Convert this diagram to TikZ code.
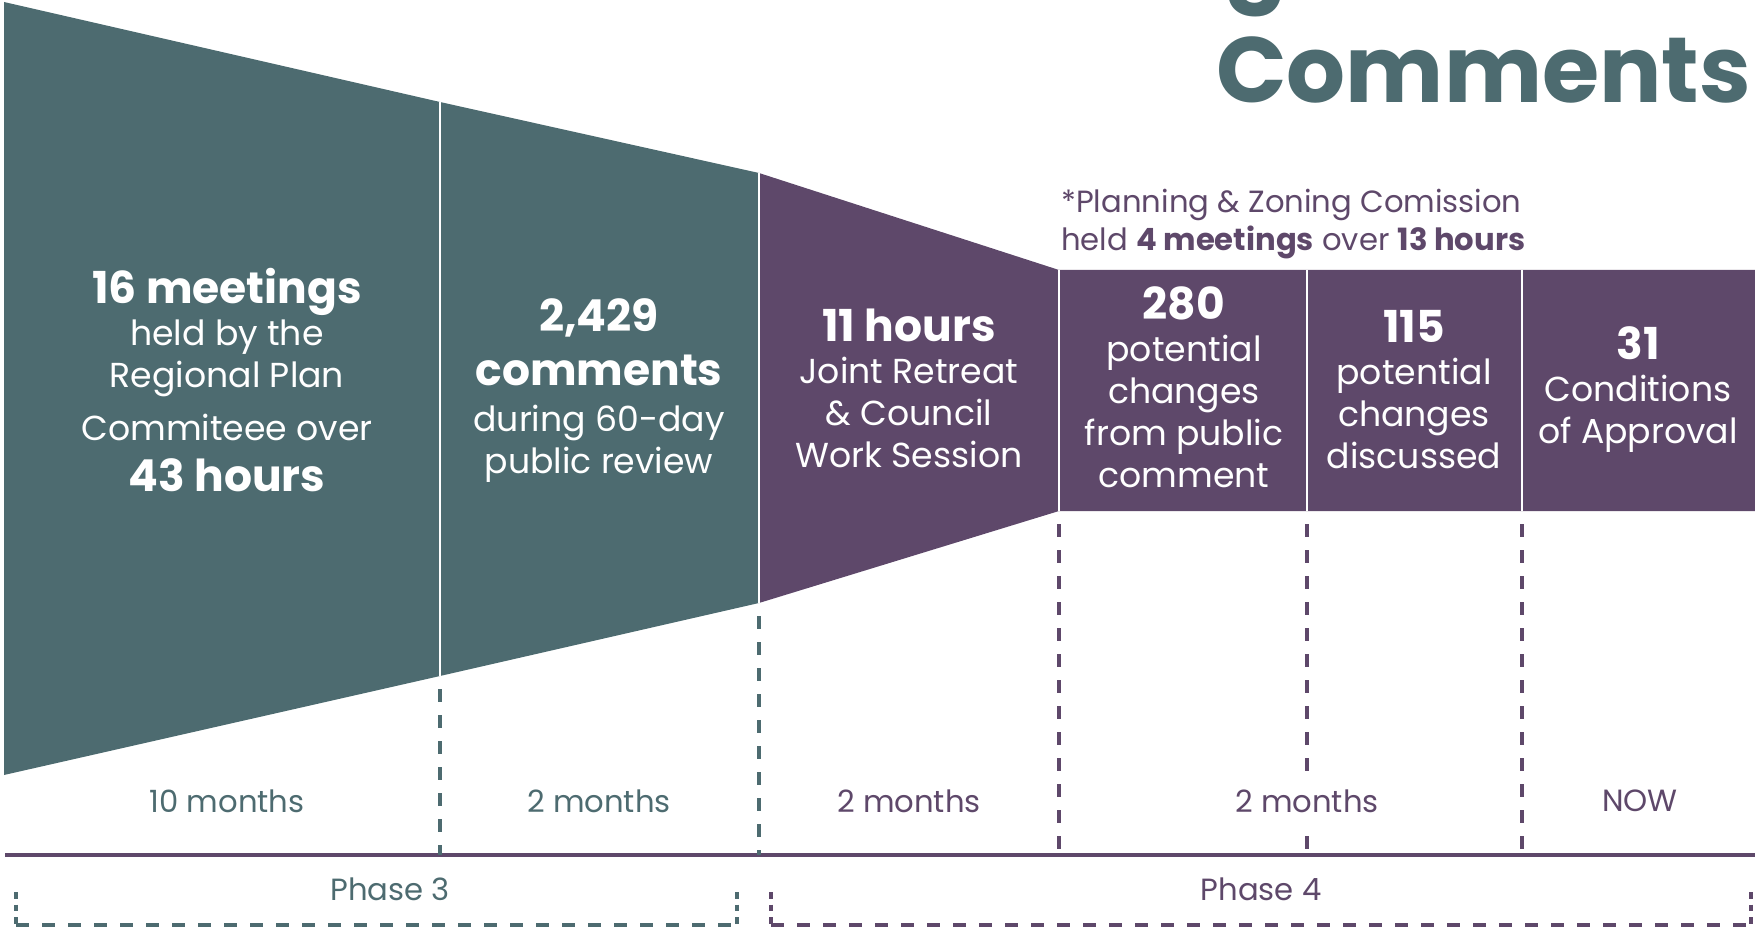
\documentclass[tikz,border=0pt]{standalone}
\usepackage{fontspec}
\setmainfont{Poppins}
\usepackage{xcolor}
\usetikzlibrary{positioning}
\definecolor{phaseteal}{RGB}{77,107,112}
\definecolor{phaseplum}{RGB}{94,72,106}
\newcommand{\statnum}[1]{{\bfseries\fontsize{33}{33}\selectfont #1}}
\tikzset{
  stat/.style={text=white, align=center, inner sep=0pt, font=\fontsize{26}{31.5}\selectfont},
  span/.style={inner sep=0pt, font=\fontsize{23}{28}\selectfont},
  seam/.style={draw=white, line width=1.1pt},
  axisdash/.style={line width=3pt, dash pattern=on 9.75pt off 9.75pt, dash phase=9.75pt},
  brace/.style={line width=3pt, dash pattern=on 9.75pt off 9.75pt},
  bracetick/.style={line width=3pt, dash pattern=on 5pt off 4.5pt},
}

\begin{document}
\begin{tikzpicture}[x=0.75pt,y=0.75pt,yscale=-1,xscale=1]
\useasboundingbox (0,0) rectangle (1755,930);

% corners of the funnel
\coordinate (t0) at (4,2);      \coordinate (b0) at (4,775);
\coordinate (t1) at (440,102);  \coordinate (b1) at (440,676);
\coordinate (t2) at (759,173);  \coordinate (b2) at (759,603);
\coordinate (t3) at (1059,270); \coordinate (b3) at (1059,511);
\coordinate (t4) at (1307,270); \coordinate (b4) at (1307,511);
\coordinate (t5) at (1522,270); \coordinate (b5) at (1522,511);
\coordinate (t6) at (1755,270); \coordinate (b6) at (1755,511);

%Shape: Phase 3 funnel
\fill [phaseteal] (t0) -- (t1) -- (t2) -- (b2) -- (b1) -- (b0) -- cycle ;
%Shape: Phase 4 funnel and boxes
\fill [phaseplum] (t2) -- (t3) -- (t6) -- (b6) -- (b3) -- (b2) -- cycle ;
% white seams
\foreach \i in {1,...,5}
  \draw [seam] (t\i) -- (b\i) ;

% time axis
\coordinate (a0) at (5,855);
\coordinate (a1) at (1755,855);
\draw [phaseplum, line width=3pt] (a0) -- (a1) ;
\draw [axisdash, phaseteal] (b1) -- (b1 |- a0) ;
\draw [axisdash, phaseteal] (b2) -- (b2 |- a0) ;
\foreach \i in {3,4,5}
  \draw [axisdash, phaseplum] (b\i) -- (b\i |- a0) ;

% phase brackets
\coordinate (p3a) at (16,892);  \coordinate (p3b) at (737,892);
\coordinate (p4a) at (771,892); \coordinate (p4b) at (1751,892);
\coordinate (floor) at (0,925);
\draw [bracetick, phaseteal] (p3a) -- (p3a |- floor) (p3b) -- (p3b |- floor) ;
\draw [brace, phaseteal] (p3a |- floor) -- (p3b |- floor) ;
\draw [bracetick, phaseplum] (p4a) -- (p4a |- floor) (p4b) -- (p4b |- floor) ;
\draw [brace, phaseplum] (p4a |- floor) -- (p4b |- floor) ;

% Title
\node [anchor=base west, inner sep=0pt, text=phaseteal, font=\bfseries\fontsize{69.5}{84}\selectfont] (titleB) at (1216,103) {Comments};
\node [anchor=base west, inner sep=0pt, text=phaseteal, font=\bfseries\fontsize{69.5}{84}\selectfont] (titleA) at (1224,-8) {g};

% Text Node
\node [stat] (meetings) at (227,380.5) {\statnum{16 meetings}\\held by the\\Regional Plan\\[8pt]Commiteee over\\[7pt]\statnum{43 hours}};
% Text Node
\node [stat] (comments) at (599,390.5) {\statnum{2,429}\\[9pt]\statnum{comments}\\[3pt]during 60-day\\public review};
% Text Node
\node [stat] (retreat) at (909,388) {\statnum{11 hours}\\Joint Retreat\\\& Council\\Work Session};
% Text Node
\node [stat] (changes) at (1184,387) {\statnum{280}\\potential\\changes\\from public\\comment};
% Text Node
\node [stat] (discussed) at (1414,390) {\statnum{115}\\potential\\changes\\discussed};
% Text Node
\node [stat] (approval) at (1638,390) {\statnum{31}\\Conditions\\of Approval};

% Text Node
\node [span, text=phaseplum, align=left, anchor=west] (pzc) at (1061,224) {*Planning \& Zoning Comission\\held \textbf{4 meetings} over \textbf{13 hours}};

% durations
\node [span, text=phaseteal] (d1) at (227,801) {10 months};
\node [span, text=phaseteal] (d2) at (599,801) {2 months};
\node [span, text=phaseplum] (d3) at (909,801) {2 months};
\node [span, text=phaseplum, fill=white, inner xsep=4pt, inner ysep=8pt] (d4) at (1307,801) {2 months};
\node [span, text=phaseplum] (d5) at (1640,801) {NOW};

% phases
\node [span, text=phaseteal] (ph3) at (390,889) {Phase 3};
\node [span, text=phaseplum] (ph4) at (1261,889) {Phase 4};

\end{tikzpicture}
\end{document}
